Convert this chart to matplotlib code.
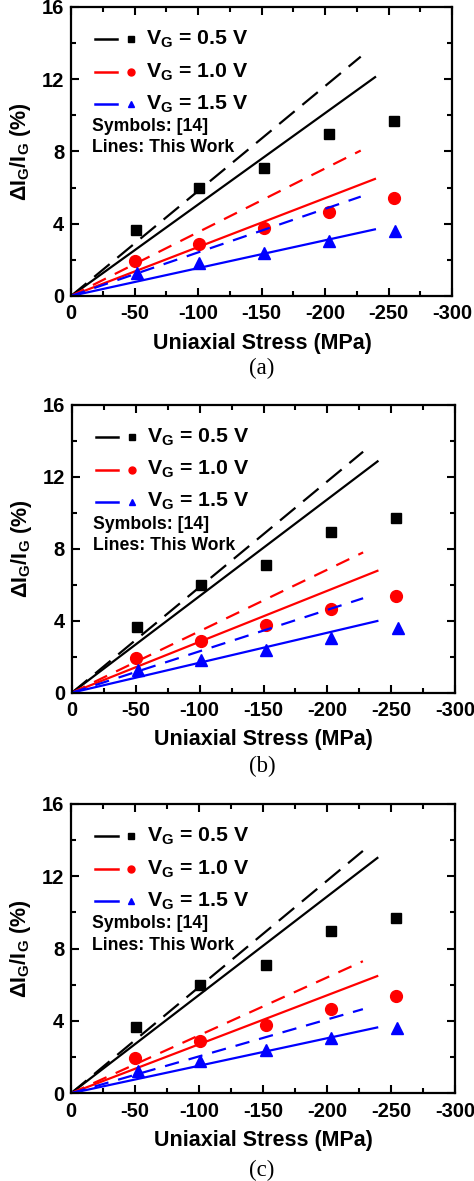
import matplotlib
matplotlib.use("Agg")
import matplotlib.pyplot as plt
import numpy as np
from matplotlib.ticker import MultipleLocator

plt.rcParams['font.family'] = ['Liberation Sans', 'DejaVu Sans']
plt.rcParams['axes.unicode_minus'] = False
plt.rcParams['mathtext.fontset'] = 'custom'
plt.rcParams['mathtext.rm'] = 'Liberation Sans:bold'
plt.rcParams['mathtext.it'] = 'Liberation Sans:bold'
plt.rcParams['mathtext.bf'] = 'Liberation Sans:bold'

# measured points from ref [14]
stress_sq = [-51, -101, -152, -203, -254]
stress_ci = [-50, -101, -152, -203, -254]
stress_tr = [-52, -101, -152, -203, -255]
dig_05 = [3.65, 6.0, 7.1, 8.95, 9.7]
dig_10 = [1.95, 2.9, 3.78, 4.65, 5.4]
dig_15 = [1.25, 1.8, 2.38, 3.03, 3.6]

# model lines (this work): straight from origin to the end value
solid_end = -240
dash_end = -228
panels = ['(a)', '(b)', '(c)']
solid_05 = [12.15, 12.9, 13.05]
solid_10 = [6.5, 6.8, 6.5]
solid_15 = [3.7, 4.0, 3.65]
dash_05 = [13.25, 13.4, 13.4]
dash_10 = [8.05, 7.8, 7.3]
dash_15 = [5.5, 5.25, 4.65]

vg_labels = ['0.5', '1.0', '1.5']
colors = ['black', 'red', 'blue']
markers = ['s', 'o', '^']
msize = [7.5, 8.5, 9]

# axes boxes [left, bottom, width, height] and caption heights
boxes = [[0.150, 0.7494, 0.804, 0.2447],
         [0.152, 0.4135, 0.808, 0.2436],
         [0.150, 0.0743, 0.810, 0.2450]]
cap_y = [0.6876, 0.3506, 0.0093]

fig = plt.figure(figsize=(4.74, 11.81), dpi=100)

for i, box in enumerate(boxes):
    ax = fig.add_axes(box)
    xs = np.array([0, solid_end])
    xd = np.array([0, dash_end])
    solids = [solid_05[i], solid_10[i], solid_15[i]]
    dashes = [dash_05[i], dash_10[i], dash_15[i]]
    dig = [(stress_sq, dig_05), (stress_ci, dig_10), (stress_tr, dig_15)]
    for k in range(3):
        ax.plot(xs, xs / solid_end * solids[k], color=colors[k], lw=1.6,
                solid_capstyle='butt')
        dpat = (9, 4.5) if k == 0 else (6.5, 4.5)
        ax.plot(xd, xd / dash_end * dashes[k], color=colors[k], lw=1.6,
                dashes=dpat)
        ax.plot(dig[k][0], dig[k][1], ls='none', marker=markers[k],
                color=colors[k], ms=msize[k], clip_on=False)

    ax.set_xlim(0, -300)
    ax.set_ylim(0, 16)
    ax.xaxis.set_major_locator(MultipleLocator(50))
    ax.xaxis.set_minor_locator(MultipleLocator(25))
    ax.yaxis.set_major_locator(MultipleLocator(4))
    ax.yaxis.set_minor_locator(MultipleLocator(2))
    ax.tick_params(which='both', direction='in', top=True, right=True,
                   width=1.5)
    ax.tick_params(which='major', length=5.5, labelsize=14.5)
    ax.tick_params(axis='x', which='major', pad=6)
    ax.tick_params(axis='y', which='major', pad=5)
    ax.tick_params(which='minor', length=3.5)
    for lab in ax.get_xticklabels() + ax.get_yticklabels():
        lab.set_fontweight('bold')
    for sp in ax.spines.values():
        sp.set_linewidth(1.6)

    ax.set_xlabel('Uniaxial Stress (MPa)', fontsize=15.5, fontweight='bold')
    ax.set_ylabel(r'$\Delta$I$_\mathregular{G}$/I$_\mathregular{G}$ (%)',
                  fontsize=15.5, fontweight='bold')
    ax.xaxis.set_label_coords(0.501, -0.128)
    ax.yaxis.set_label_coords(-0.10, 0.5)

    # legend drawn by hand: line sample, small symbol, text
    rows = [0.889, 0.775, 0.664]
    for k in range(3):
        ax.plot([0.063, 0.121], [rows[k], rows[k]], transform=ax.transAxes,
                color=colors[k], lw=1.8)
        ax.plot([0.157], [rows[k]], transform=ax.transAxes, ls='none',
                marker=markers[k], color=colors[k], ms=5)
        ax.text(0.197, rows[k],
                r'V$_\mathregular{G}$ = ' + vg_labels[k] + ' V',
                transform=ax.transAxes, fontsize=15.3, fontweight='bold',
                va='center', ha='left')
    ax.text(0.055, 0.585, 'Symbols: [14]', transform=ax.transAxes,
            fontsize=12.7, fontweight='bold', va='center', ha='left')
    ax.text(0.055, 0.512, 'Lines: This Work', transform=ax.transAxes,
            fontsize=12.7, fontweight='bold', va='center', ha='left')

    fig.text(0.553, cap_y[i], panels[i], fontsize=16.5,
             family='Liberation Serif', ha='center', va='center')

fig.savefig('out.png', dpi=100)
